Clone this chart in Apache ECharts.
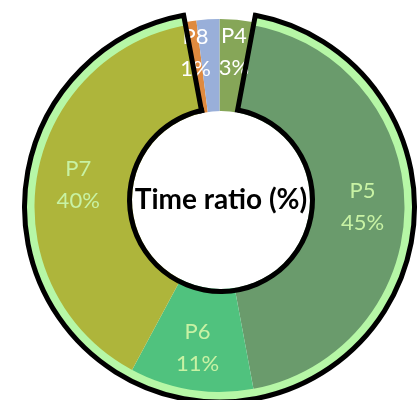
<!DOCTYPE html>
<html>
<head>
<meta charset="utf-8">
<script src="https://cdn.jsdelivr.net/npm/echarts@6/dist/echarts.min.js"></script>
<style>
  html, body { margin: 0; padding: 0; background: #fff; }
  #chart { width: 420px; height: 400px; }
</style>
</head>
<body>
<div id="chart"></div>
<script>
// Share of time per phase, clockwise from 12 o'clock
const categories = ['P4', 'P5', 'P6', 'P7', 'P8', 'P9'];
const shares = [3, 45, 11, 40, 1, 2];
const sliceColors = ['#86A658', '#6A9B6C', '#50C27E', '#AEB53B', '#DF8A3F', '#99AFD9'];
const labelledSmall = ['P4', 'P8'];
const outlinedPhases = ['P5', 'P6', 'P7'];
const centreText = 'Time ratio (%)';

const ringCentre = [219.5, 207];
const holeCentre = [221, 200];
const CLEAR = 'rgba(0,0,0,0)';
const FONT = 'Lato, "Open Sans", sans-serif';

// Merge the outlined phases into one block so they can share a single border
function groupedData(fillFor) {
  const out = [];
  categories.forEach((c, i) => {
    const inGroup = outlinedPhases.includes(c);
    const last = out[out.length - 1];
    if (inGroup && last && last.inGroup) {
      last.value += shares[i];
    } else {
      out.push({ name: inGroup ? 'outlined' : c, value: shares[i], inGroup });
    }
  });
  return out.map(d => ({ name: d.name, value: d.value, itemStyle: fillFor(d.inGroup) }));
}

const common = {
  type: 'pie',
  startAngle: 90,
  clockwise: true,
  silent: true,
  animation: false,
  labelLine: { show: false },
  emphasis: { disabled: true }
};

const option = {
  backgroundColor: '#fff',
  series: [
    {
      ...common,
      name: 'slices',
      z: 1,
      center: ringCentre,
      radius: [0, 188],
      label: { show: false },
      data: categories.map((c, i) => ({
        name: c, value: shares[i],
        itemStyle: { color: sliceColors[i], borderWidth: 0 }
      }))
    },
    {
      ...common,
      name: 'rim',
      z: 2,
      center: ringCentre,
      radius: [185, 193],
      label: { show: false },
      data: groupedData(g => ({ color: g ? '#B6F7A6' : CLEAR, borderWidth: 0 }))
    },
    {
      ...common,
      name: 'labels-main',
      z: 3,
      center: ringCentre,
      radius: [92, 188],
      data: categories.map((c, i) => ({
        name: c, value: shares[i],
        itemStyle: { color: CLEAR, borderWidth: 0 },
        label: { show: outlinedPhases.includes(c) }
      })),
      label: {
        position: 'inside',
        formatter: '{b}\n{c}%',
        color: '#C8F2A4',
        fontFamily: FONT,
        fontSize: 22,
        lineHeight: 32
      }
    },
    {
      ...common,
      name: 'labels-small',
      z: 3,
      center: ringCentre,
      radius: [118, 188],
      data: categories.map((c, i) => ({
        name: c, value: shares[i],
        itemStyle: { color: CLEAR, borderWidth: 0 },
        label: { show: labelledSmall.includes(c) }
      })),
      label: {
        position: 'inside',
        formatter: '{b}\n{c}%',
        color: '#FFFFFF',
        fontFamily: FONT,
        fontSize: 22,
        lineHeight: 32
      }
    },
    {
      ...common,
      name: 'outline',
      z: 4,
      center: ringCentre,
      radius: [0, 195],
      label: { show: false },
      data: groupedData(g => g
        ? { color: CLEAR, borderColor: '#000', borderWidth: 5, borderJoin: 'miter' }
        : { color: CLEAR, borderWidth: 0 })
    },
    {
      ...common,
      name: 'hole',
      z: 5,
      center: holeCentre,
      radius: [0, 89],
      data: [{ name: centreText, value: 1, itemStyle: { color: '#fff', borderWidth: 0 } }],
      label: {
        show: true,
        position: 'center',
        formatter: '{b}',
        color: '#000',
        fontFamily: FONT,
        fontWeight: 'bold',
        fontSize: 28
      }
    },
    {
      ...common,
      name: 'hole-edge',
      z: 6,
      center: holeCentre,
      radius: [89, 94],
      label: { show: false },
      data: groupedData(g => ({ color: g ? '#000' : CLEAR, borderWidth: 0 }))
    }
  ]
};

const chart = echarts.init(document.getElementById('chart'), null, { renderer: 'canvas' });
chart.setOption(option);
</script>
</body>
</html>
